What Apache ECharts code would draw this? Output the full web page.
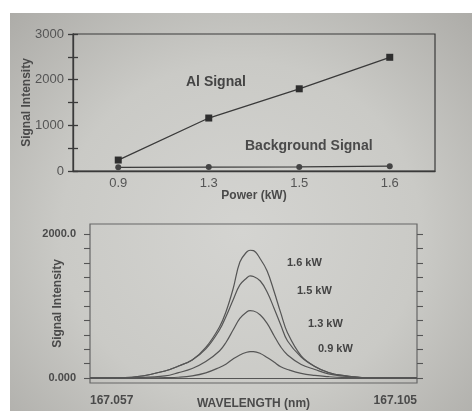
<!DOCTYPE html>
<html>
<head>
<meta charset="utf-8">
<script src="https://cdn.jsdelivr.net/npm/echarts@6/dist/echarts.min.js"></script>
<style>
  html, body { margin: 0; padding: 0; background: #fff; }
  #page {
    position: absolute; left: 10px; top: 13px; width: 462px; height: 398px;
    background: radial-gradient(ellipse at 50% 55%, #d4d4d1 0%, #cacac6 55%, #adaca8 100%);
  }
  #chart { position: absolute; left: 0; top: 0; width: 472px; height: 411px; }
</style>
</head>
<body>
<div id="page"></div>
<div id="chart"></div>
<script>
// top panel: intensity vs power
const powers = ['0.9', '1.3', '1.5', '1.6']
const alSignal = [240, 1160, 1800, 2490]
const bgSignal = [80, 85, 90, 105]

// bottom panel: emission profiles
const wavelengths = [167.057, 167.060, 167.064, 167.068, 167.070, 167.072, 167.074, 167.076,
  167.077, 167.078, 167.079, 167.080, 167.0805, 167.081, 167.082, 167.083, 167.084, 167.085,
  167.086, 167.088, 167.090, 167.092, 167.094, 167.098, 167.102, 167.105]
const kw16 = [0, 0, 20, 97, 167, 250, 424, 709, 931, 1237, 1612, 1751, 1775, 1770, 1654, 1487,
  1209, 904, 626, 306, 160, 76, 35, 0, 0, 0]
const kw15 = [0, 0, 20, 97, 167, 250, 403, 667, 862, 1084, 1293, 1390, 1418, 1411, 1348, 1195,
  973, 737, 514, 292, 160, 76, 35, 0, 0, 0]
const kw13 = [0, 0, 5, 28, 74, 132, 229, 375, 500, 667, 827, 917, 935, 931, 876, 758,
  591, 431, 320, 188, 118, 56, 28, 0, 0, 0]
const kw09 = [0, 0, 0, 5, 10, 28, 70, 146, 195, 264, 320, 357, 366, 366, 341, 285,
  222, 156, 118, 63, 35, 18, 7, 0, 0, 0]
const yTicks = [0, 200, 400, 600, 800, 1000, 1200, 1400, 1600, 1800, 2000]

const lineCol = '#3a3a3a'
const txtCol = '#4a4a4a'
const font = 'Liberation Sans'

const pair = (ys) => wavelengths.map((w, i) => [w, ys[i]])
const profile = (name, ys) => ({
  name, type: 'line', xAxisIndex: 1, yAxisIndex: 2, data: pair(ys),
  smooth: 0.4, showSymbol: false, lineStyle: { color: '#555', width: 1.2 }
})

const chart = echarts.init(document.getElementById('chart'))
chart.setOption({
  animation: false,
  textStyle: { fontFamily: font },
  grid: [
    { left: 73, right: 37, top: 34, bottom: 240, outerBoundsMode: 'none', show: true, borderColor: lineCol, borderWidth: 1.2, backgroundColor: 'transparent' },
    { left: 90, right: 55, top: 224, bottom: 28, outerBoundsMode: 'none', show: true, borderColor: '#666', borderWidth: 1.2, backgroundColor: 'transparent' }
  ],
  xAxis: [
    {
      gridIndex: 0, type: 'category', data: powers, boundaryGap: true,
      axisLine: { lineStyle: { color: lineCol, width: 1.3 } },
      axisTick: { length: 5, lineStyle: { color: lineCol, width: 1.3 } },
      axisLabel: { color: '#555', fontSize: 13, margin: 6 },
      name: 'Power (kW)', nameLocation: 'middle', nameGap: 19, nameMoveOverlap: false,
      nameTextStyle: { color: txtCol, fontSize: 12, fontWeight: 'bold' }
    },
    {
      gridIndex: 1, type: 'value', min: 167.057, max: 167.105,
      axisLine: { onZero: true, lineStyle: { color: '#555', width: 1.2 } },
      axisTick: { show: false },
      splitLine: { show: false },
      axisLabel: {
        customValues: [167.057, 167.105], color: txtCol, fontSize: 12, fontWeight: 'bold', margin: 12,
        alignMinLabel: 'left', alignMaxLabel: 'right', formatter: v => v.toFixed(3)
      },
      name: 'WAVELENGTH (nm)', nameLocation: 'middle', nameGap: 15, nameMoveOverlap: false,
      nameTextStyle: { color: txtCol, fontSize: 12, fontWeight: 'bold' }
    }
  ],
  yAxis: [
    {
      gridIndex: 0, type: 'value', min: 0, max: 3000, interval: 500,
      axisLine: { show: true, lineStyle: { color: lineCol, width: 1.3 } },
      axisTick: { show: true, length: 5, lineStyle: { color: lineCol, width: 1.3 } },
      splitLine: { show: false },
      axisLabel: { color: '#555', fontSize: 13, margin: 9, formatter: v => v % 1000 === 0 ? String(v) : '' },
      name: 'Signal Intensity', nameLocation: 'middle', nameGap: 40, nameMoveOverlap: false,
      nameTextStyle: { color: txtCol, fontSize: 12, fontWeight: 'bold' }
    },
    {
      gridIndex: 0, type: 'value', min: 0, max: 3000, interval: 500, position: 'left',
      axisLine: { show: false },
      axisTick: { show: true, inside: true, length: 5, lineStyle: { color: lineCol, width: 1.3 } },
      axisLabel: { show: false }, splitLine: { show: false }
    },
    {
      gridIndex: 1, type: 'value', min: -70, max: 2140,
      axisLine: { show: false },
      axisTick: { show: true, length: 6, customValues: yTicks, lineStyle: { color: '#555', width: 1.1 } },
      splitLine: { show: false },
      axisLabel: {
        customValues: [0, 2000], color: txtCol, fontSize: 11, fontWeight: 'bold', margin: 14,
        formatter: v => v === 0 ? '0.000' : v.toFixed(1)
      },
      name: 'Signal Intensity', nameLocation: 'middle', nameGap: 26, nameMoveOverlap: false,
      nameTextStyle: { color: txtCol, fontSize: 12, fontWeight: 'bold' }
    },
    {
      gridIndex: 1, type: 'value', min: -70, max: 2140, position: 'right',
      axisLine: { show: false },
      axisTick: { show: true, length: 6, customValues: yTicks, lineStyle: { color: '#555', width: 1.1 } },
      axisLabel: { show: false }, splitLine: { show: false }
    }
  ],
  series: [
    {
      name: 'Al Signal', type: 'line', xAxisIndex: 0, yAxisIndex: 0, data: alSignal,
      symbol: 'rect', symbolSize: 7, itemStyle: { color: '#2e2e2e' },
      lineStyle: { color: lineCol, width: 1.3 }
    },
    {
      name: 'Background Signal', type: 'line', xAxisIndex: 0, yAxisIndex: 0, data: bgSignal,
      symbol: 'circle', symbolSize: 6, itemStyle: { color: '#444' },
      lineStyle: { color: lineCol, width: 1.3 }
    },
    profile('1.6 kW', kw16),
    profile('1.5 kW', kw15),
    profile('1.3 kW', kw13),
    profile('0.9 kW', kw09)
  ],
  graphic: [
    { type: 'text', left: 186, top: 75, style: { text: 'Al Signal', fill: '#444', font: 'bold 14px "Liberation Sans"' } },
    { type: 'text', left: 245, top: 139, style: { text: 'Background Signal', fill: '#4a4a4a', font: 'bold 14px "Liberation Sans"' } },
    { type: 'text', left: 287, top: 257, style: { text: '1.6 kW', fill: '#444', font: 'bold 11px "Liberation Sans"' } },
    { type: 'text', left: 297, top: 285, style: { text: '1.5 kW', fill: '#444', font: 'bold 11px "Liberation Sans"' } },
    { type: 'text', left: 308, top: 318, style: { text: '1.3 kW', fill: '#444', font: 'bold 11px "Liberation Sans"' } },
    { type: 'text', left: 318, top: 343, style: { text: '0.9 kW', fill: '#444', font: 'bold 11px "Liberation Sans"' } }
  ]
})
</script>
</body>
</html>
